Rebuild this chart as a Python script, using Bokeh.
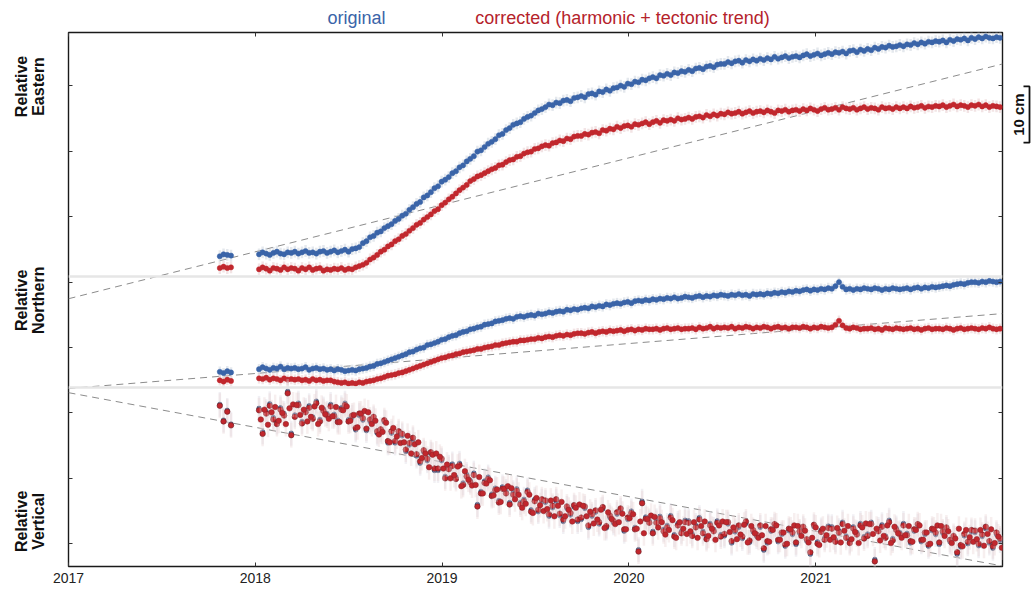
import numpy as np
from bokeh.plotting import figure
from bokeh.models import Range1d, FixedTicker, LinearAxis, Span, CustomJSTickFormatter
from bokeh.layouts import column, row
from bokeh.core.properties import value
from bokeh.embed import file_html
from bokeh.resources import INLINE

# ---------------- data (cm, relative displacement) ----------------
cluster_years = [2017.81, 2017.83, 2017.85, 2017.87]
weekly_years = list(np.round(2018.02 + np.arange(208) * 7 / 365.25, 4))
years = np.array(cluster_years + weekly_years)
# mid-week epochs (extra vertical samples of the daily series)
midweek_years = np.array(weekly_years) + 3.5 / 365.25

east_original = [
    3.1, 3.4, 3.3, 3.2,
    3.4, 3.7, 3.5, 3.3, 3.6, 3.8, 3.5, 3.4, 3.7, 3.6,
    3.8, 3.5, 3.7, 3.9, 3.6, 3.7, 3.5, 3.8, 3.9, 3.6,
    3.8, 4.0, 3.7, 3.9, 4.1, 3.8, 4.2, 4.3, 4.5, 5.1,
    5.4, 6.0, 6.2, 6.7, 6.9, 7.4, 7.7, 8.0, 8.5, 8.8,
    9.3, 9.6, 10.2, 10.6, 11.1, 11.4, 12.1, 12.4, 12.9, 13.5,
    13.8, 14.5, 14.8, 15.2, 15.8, 16.1, 16.7, 17.0, 17.6, 18.0,
    18.4, 19.1, 19.3, 19.8, 20.3, 20.6, 21.0, 21.6, 21.8, 22.4,
    22.7, 23.2, 23.4, 23.6, 24.1, 24.4, 24.6, 25.0, 25.4, 25.6,
    25.9, 26.3, 26.2, 26.6, 26.5, 26.9, 27.0, 26.8, 27.3, 27.4,
    27.6, 27.4, 27.9, 28.0, 27.8, 28.3, 28.2, 28.6, 28.4, 28.8,
    28.9, 29.2, 29.0, 29.5, 29.4, 29.8, 29.7, 30.1, 30.0, 30.3,
    30.5, 30.3, 30.8, 30.7, 31.0, 30.8, 31.2, 31.1, 31.4, 31.3,
    31.6, 31.4, 31.8, 31.9, 31.7, 32.1, 32.2, 32.0, 32.4, 32.5,
    32.5, 32.8, 32.6, 32.9, 33.0, 32.7, 33.1, 32.9, 33.2, 33.0,
    33.3, 33.1, 33.4, 33.2, 33.6, 33.3, 33.5, 33.7, 33.4, 33.6,
    33.7, 33.5, 33.8, 34.0, 33.7, 33.9, 34.1, 33.8, 34.0, 34.2,
    34.0, 34.3, 34.2, 34.4, 34.1, 34.5, 34.6, 34.3, 34.7, 34.5,
    34.8, 34.6, 35.0, 34.8, 35.1, 35.0, 35.3, 35.1, 35.2, 35.4,
    35.2, 35.5, 35.4, 35.7, 35.5, 35.8, 35.6, 35.9, 35.8, 36.0,
    35.9, 36.1, 35.8, 36.2, 36.0, 36.3, 36.2, 36.4, 36.1, 36.5,
    36.3, 36.6, 36.4, 36.7, 36.5, 36.4, 36.6, 36.5,
]

east_corrected = [
    1.3, 1.5, 1.3, 1.4,
    1.1, 1.4, 1.2, 0.9, 1.3, 1.2, 1.0, 1.4, 1.1, 1.3,
    1.2, 0.9, 1.3, 1.1, 1.4, 1.0, 1.2, 1.3, 0.9, 1.1,
    1.0, 1.2, 1.1, 1.3, 1.0, 1.2, 1.1, 1.4, 1.6, 1.8,
    2.1, 2.6, 2.9, 3.3, 3.8, 4.1, 4.6, 4.9, 5.4, 5.7,
    6.2, 6.5, 7.0, 7.4, 7.9, 8.2, 8.7, 9.1, 9.5, 10.0,
    10.3, 10.9, 11.3, 11.8, 12.2, 12.7, 13.2, 13.6, 14.0, 14.6,
    14.9, 15.3, 15.5, 15.8, 16.1, 16.4, 16.6, 17.0, 17.1, 17.5,
    17.8, 17.9, 18.3, 18.4, 18.8, 19.0, 19.1, 19.5, 19.6, 19.9,
    20.1, 20.0, 20.4, 20.5, 20.8, 20.7, 21.1, 21.0, 21.4, 21.5,
    21.5, 21.8, 21.7, 22.0, 22.1, 21.9, 22.4, 22.3, 22.6, 22.5,
    22.9, 22.7, 23.0, 23.1, 22.9, 23.3, 23.2, 23.4, 23.6, 23.3,
    23.6, 23.8, 23.5, 23.9, 23.8, 24.0, 23.8, 24.2, 24.0, 24.1,
    24.3, 24.1, 24.4, 24.5, 24.3, 24.7, 24.5, 24.8, 24.6, 24.9,
    24.8, 25.1, 24.9, 25.0, 25.2, 24.9, 25.1, 25.3, 25.0, 25.2,
    25.3, 25.1, 25.4, 25.2, 25.0, 25.4, 25.3, 25.5, 25.2, 25.4,
    25.5, 25.3, 25.6, 25.4, 25.7, 25.5, 25.3, 25.6, 25.8, 25.5,
    25.6, 25.8, 25.5, 25.9, 25.7, 25.6, 25.8, 25.5, 25.7, 25.9,
    25.6, 25.8, 25.7, 25.5, 25.9, 25.7, 25.8, 25.6, 25.9, 25.7,
    25.9, 25.7, 26.0, 25.8, 25.9, 26.1, 25.8, 26.0, 25.9, 26.1,
    26.0, 26.2, 25.9, 26.1, 26.3, 26.0, 26.2, 26.1, 25.9, 26.2,
    26.1, 26.3, 26.0, 26.2, 25.9, 26.1, 26.0, 25.9,
]

north_original = [
    2.4, 2.2, 2.5, 2.3,
    2.8, 3.1, 2.9, 2.7, 3.0, 2.9, 3.2, 2.8, 3.0, 2.9,
    3.0, 2.8, 2.9, 3.1, 2.7, 2.9, 3.0, 2.8, 2.9, 2.7,
    2.8, 2.6, 2.8, 2.7, 2.5, 2.6, 2.7, 2.6, 2.8, 2.9,
    3.0, 3.2, 3.3, 3.6, 3.7, 3.9, 4.1, 4.3, 4.5, 4.7,
    4.9, 5.1, 5.4, 5.5, 5.8, 6.0, 6.1, 6.5, 6.6, 6.8,
    7.0, 7.3, 7.4, 7.7, 7.9, 8.0, 8.3, 8.5, 8.6, 8.9,
    9.0, 9.2, 9.3, 9.6, 9.7, 9.8, 10.1, 10.2, 10.3, 10.5,
    10.6, 10.5, 10.8, 10.9, 10.8, 11.0, 11.1, 11.0, 11.3, 11.2,
    11.3, 11.5, 11.4, 11.6, 11.7, 11.6, 11.9, 11.8, 12.0, 11.9,
    12.1, 12.2, 12.1, 12.4, 12.3, 12.5, 12.4, 12.7, 12.6, 12.8,
    12.9, 12.8, 13.0, 13.1, 12.9, 13.2, 13.3, 13.2, 13.4, 13.3,
    13.5, 13.4, 13.6, 13.5, 13.7, 13.6, 13.8, 13.6, 13.7, 13.9,
    13.8, 13.7, 13.9, 14.0, 13.8, 14.0, 13.9, 14.1, 14.0, 14.2,
    14.1, 14.0, 14.2, 14.1, 14.3, 14.1, 14.2, 14.0, 14.3, 14.2,
    14.3, 14.2, 14.4, 14.3, 14.5, 14.4, 14.6, 14.5, 14.7, 14.6,
    14.8, 14.7, 14.9, 15.0, 14.8, 15.0, 14.9, 15.1, 15.0, 15.2,
    15.1, 15.5, 16.1, 15.4, 15.0, 15.1, 14.9, 15.1, 15.0, 15.2,
    15.1, 15.0, 15.2, 15.1, 14.9, 15.1, 15.0, 15.2, 15.1, 15.0,
    15.1, 15.2, 15.0, 15.2, 15.3, 15.1, 15.3, 15.2, 15.4, 15.3,
    15.4, 15.5, 15.6, 15.5, 15.7, 15.8, 15.9, 15.8, 16.0, 16.1,
    16.1, 16.0, 16.2, 16.1, 16.3, 16.2, 16.1, 16.2,
]

north_corrected = [
    1.1, 0.9, 1.2, 1.0,
    1.4, 1.3, 1.5, 1.2, 1.4, 1.3, 1.1, 1.4, 1.2, 1.3,
    1.2, 1.3, 1.1, 1.2, 1.0, 1.3, 1.1, 1.2, 1.0, 1.1,
    1.1, 0.9, 0.8, 0.7, 0.8, 0.6, 0.7, 0.6, 0.8, 0.7,
    0.9, 1.0, 1.1, 1.3, 1.4, 1.6, 1.8, 1.9, 2.0, 2.2,
    2.3, 2.5, 2.7, 2.9, 3.1, 3.3, 3.5, 3.7, 3.9, 4.1,
    4.3, 4.5, 4.6, 4.8, 4.9, 5.1, 5.2, 5.4, 5.5, 5.6,
    5.7, 5.9, 5.9, 6.1, 6.2, 6.3, 6.5, 6.5, 6.7, 6.8,
    6.9, 7.0, 7.0, 7.2, 7.2, 7.3, 7.4, 7.4, 7.6, 7.5,
    7.7, 7.8, 7.7, 7.9, 8.0, 7.9, 8.1, 8.0, 8.2, 8.3,
    8.3, 8.2, 8.4, 8.5, 8.3, 8.5, 8.6, 8.5, 8.7, 8.6,
    8.7, 8.8, 8.6, 8.8, 8.9, 8.7, 8.9, 8.8, 9.0, 8.9,
    8.9, 9.0, 8.8, 9.0, 9.1, 8.9, 9.0, 9.1, 8.9, 9.0,
    9.0, 9.1, 8.9, 9.2, 9.0, 9.1, 9.3, 9.0, 9.2, 9.1,
    9.2, 9.1, 9.3, 9.0, 9.2, 9.1, 9.3, 9.2, 9.0, 9.2,
    9.1, 9.3, 9.2, 9.0, 9.2, 9.3, 9.1, 9.2, 9.0, 9.2,
    9.2, 9.1, 9.3, 9.2, 9.0, 9.2, 9.1, 9.3, 9.2, 9.1,
    9.2, 9.6, 10.2, 9.5, 9.1, 9.0, 9.2, 9.1, 8.9, 9.0,
    9.0, 9.1, 8.9, 9.0, 8.8, 9.1, 9.0, 8.9, 9.1, 9.0,
    8.9, 9.0, 9.1, 8.9, 9.0, 8.8, 9.0, 9.1, 8.9, 9.0,
    9.0, 8.9, 9.1, 9.0, 8.8, 9.0, 9.1, 8.9, 9.0, 9.1,
    9.0, 8.9, 9.1, 9.0, 9.2, 9.0, 8.9, 9.0,
]

vertical_original = [
    2.0, -0.4, 1.1, -1.0,
    1.4, -2.2, 0.9, 2.1, 0.0, -0.7, 1.5, 0.6, 4.0, -2.4,
    0.4, 2.2, -0.6, 1.1, 1.8, 0.1, 2.5, -0.3, 1.3, 0.6,
    2.0, 0.5, -0.4, 1.5, 2.2, -0.3, 0.0, -1.9, 0.3, -0.4,
    -2.0, -0.6, -0.2, -2.4, -2.1, -0.7, -3.9, -2.4, -3.9, -2.4,
    -2.8, -5.2, -4.2, -3.4, -5.9, -7.0, -5.3, -6.6, -5.6, -8.1,
    -8.1, -6.6, -9.0, -7.6, -7.1, -9.1, -7.0, -10.0, -8.7, -9.6,
    -8.5, -13.3, -11.3, -9.7, -9.1, -11.7, -10.8, -12.7, -10.6, -11.3,
    -13.0, -11.5, -10.9, -13.0, -12.5, -11.1, -14.1, -12.5, -14.4, -12.8,
    -13.0, -15.1, -13.8, -12.8, -15.0, -15.9, -13.9, -14.9, -13.7, -15.9,
    -15.6, -13.9, -16.8, -15.1, -14.5, -16.3, -14.0, -16.9, -15.3, -16.1,
    -14.8, -14.2, -17.4, -15.6, -14.3, -16.8, -20.2, -12.8, -15.2, -15.8,
    -17.4, -15.8, -15.1, -17.1, -16.5, -15.0, -17.9, -16.2, -17.4, -15.7,
    -15.8, -17.8, -16.5, -15.3, -17.4, -18.3, -16.2, -17.1, -15.8, -17.9,
    -18.1, -16.3, -19.2, -17.5, -16.8, -18.5, -16.2, -19.1, -17.5, -18.2,
    -16.8, -20.3, -19.2, -17.4, -16.6, -19.0, -17.9, -19.7, -17.3, -17.9,
    -19.4, -17.7, -17.0, -18.9, -20.9, -16.7, -19.0, -17.2, -18.4, -16.6,
    -16.7, -18.7, -17.3, -16.0, -18.1, -18.9, -16.7, -17.6, -16.2, -18.2,
    -17.8, -16.0, -21.7, -17.1, -16.4, -18.1, -15.7, -18.5, -16.9, -17.6,
    -16.2, -17.7, -19.2, -17.4, -16.6, -19.0, -17.9, -19.7, -17.3, -17.9,
    -19.4, -17.7, -17.1, -19.0, -18.4, -20.9, -19.8, -18.1, -19.3, -17.5,
    -17.6, -19.6, -18.2, -17.0, -19.2, -20.0, -17.9, -18.8,
]

vertical_corrected = [
    1.8, -0.6, 0.9, -1.2,
    1.1, -2.5, 0.6, 1.8, -0.3, -1.0, 1.2, 0.3, 3.7, -2.7,
    0.1, 1.9, -0.9, 0.8, 1.5, -0.2, 2.2, -0.6, 1.0, 0.3,
    1.7, 0.2, -0.7, 1.2, 1.9, -0.6, 0.3, -1.6, 0.6, -0.1,
    -1.7, -0.3, 0.1, -2.1, -1.8, -0.4, -3.6, -2.1, -3.6, -2.1,
    -2.5, -4.9, -3.9, -3.1, -5.6, -6.7, -5.0, -6.3, -5.3, -7.8,
    -7.8, -6.3, -9.3, -7.9, -7.4, -9.4, -7.3, -10.3, -9.0, -9.9,
    -8.8, -13.6, -11.6, -10.0, -9.4, -12.0, -11.1, -13.0, -10.9, -11.6,
    -13.3, -11.8, -11.2, -13.3, -12.8, -11.4, -14.4, -12.8, -14.1, -12.5,
    -12.7, -14.8, -13.5, -12.5, -14.7, -15.6, -13.6, -14.6, -13.4, -15.6,
    -15.3, -13.6, -16.5, -14.8, -14.2, -16.0, -13.7, -16.6, -15.0, -15.8,
    -14.5, -13.9, -17.1, -15.3, -14.6, -17.1, -20.5, -13.1, -15.5, -16.1,
    -17.7, -16.1, -15.4, -17.4, -16.8, -15.3, -18.2, -16.5, -17.7, -16.0,
    -16.1, -18.1, -16.8, -15.6, -17.7, -18.6, -16.5, -17.4, -16.1, -18.2,
    -17.8, -16.0, -18.9, -17.2, -16.5, -18.2, -15.9, -18.8, -17.2, -17.9,
    -16.5, -20.0, -18.9, -17.1, -16.3, -18.7, -17.6, -19.4, -17.0, -17.6,
    -19.1, -17.4, -16.7, -18.6, -20.6, -16.4, -19.3, -17.5, -18.7, -16.9,
    -17.0, -19.0, -17.6, -16.3, -18.4, -19.2, -17.0, -17.9, -16.5, -18.5,
    -18.1, -16.3, -22.0, -17.4, -16.7, -18.4, -16.0, -18.8, -17.2, -17.9,
    -16.5, -18.0, -18.9, -17.1, -16.3, -18.7, -17.6, -19.4, -17.0, -17.6,
    -19.1, -17.4, -16.8, -18.7, -18.1, -20.6, -19.5, -17.8, -19.0, -17.2,
    -17.3, -19.3, -17.9, -16.7, -18.9, -19.7, -17.6, -18.5,
]

vertical_corrected_midweek = [
    -0.3, 1.2, -1.1, 0.8, 1.6, -0.5, 0.7, -1.0, 1.4, 2.0,
    1.9, 0.4, 1.2, -0.6, 0.1, 1.7, -1.0, 1.5, 0.5, -0.2,
    0.2, 1.6, -0.7, 1.1, 1.7, -0.5, 0.4, -1.5, 0.6, 1.0,
    0.8, -1.0, -0.5, -2.6, -2.2, -0.8, -3.8, -1.6, -2.9, -3.9,
    -3.8, -2.8, -5.5, -4.1, -3.8, -6.2, -5.5, -7.6, -5.7, -5.5,
    -6.0, -7.8, -7.2, -9.3, -8.8, -7.5, -10.5, -8.2, -9.5, -10.4,
    -10.3, -9.1, -11.6, -10.1, -9.6, -11.9, -11.0, -12.9, -10.9, -10.5,
    -10.8, -12.5, -11.8, -13.8, -13.2, -11.8, -14.6, -12.3, -13.4, -14.3,
    -14.0, -12.7, -15.1, -13.5, -12.9, -15.1, -14.1, -15.9, -13.8, -13.3,
    -13.5, -15.1, -14.4, -16.2, -15.6, -14.1, -16.9, -14.5, -15.5, -16.3,
    -16.0, -14.7, -17.1, -15.4, -14.8, -17.0, -15.9, -17.7, -15.5, -15.0,
    -15.2, -16.8, -16.0, -17.9, -17.2, -15.7, -18.4, -16.0, -17.0, -17.8,
    -17.4, -16.0, -18.4, -16.6, -15.9, -18.1, -17.0, -18.7, -16.5, -15.9,
    -16.0, -17.5, -16.8, -18.6, -17.9, -16.4, -19.1, -16.6, -17.7, -18.4,
    -18.0, -16.6, -19.0, -17.2, -16.5, -18.7, -17.6, -19.3, -17.1, -16.5,
    -16.6, -18.1, -17.3, -19.1, -18.4, -16.8, -19.5, -17.0, -18.0, -18.7,
    -18.3, -16.9, -19.1, -17.3, -16.6, -18.6, -17.5, -19.2, -16.8, -16.2,
    -16.3, -17.8, -17.0, -18.8, -18.1, -16.5, -19.2, -16.7, -17.7, -18.4,
    -18.0, -16.6, -19.0, -17.2, -16.5, -18.7, -17.6, -19.3, -17.1, -16.5,
    -16.6, -18.1, -17.4, -19.2, -18.5, -17.0, -19.7, -17.2, -18.3, -19.0,
    -18.6, -17.2, -19.6, -17.8, -17.1, -19.2, -18.2, -19.9,
]

# tectonic trend lines (cm) at the start and end of the window
trend_years = [2017.0, 2022.0]
trend_east = [-3.4, 32.5]
trend_north = [-0.15, 11.3]
trend_vertical = [3.8, -22.7]

# formal errors (cm)
sigma_east, sigma_north, sigma_vertical = 0.9, 0.8, 1.9

year_ticks = [2017, 2018, 2019, 2020, 2021]
year_labels = ["2017", "2018", "2019", "2020", "2021"]
y_ticks = [3.5, 13.5, 23.5, 33.5, 43.5, 53.5, 63.5, 73.5]

legend_texts = ["original", "corrected (harmonic + tectonic trend)"]
side_titles = [("Relative", "Eastern"), ("Relative", "Northern"),
               ("Relative", "Vertical")]
scale_text = "10 cm"

# panel baselines in the stacked plot (cm)
E_BASE, N_BASE, U_BASE = 44.34, 27.37, 22.78

BLUE, RED = "#3a64a8", "#c1272d"
RED_TXT = "#b5232b"
FONT = "Liberation Sans"
W, H = 1032, 589
TOP_H = 31


def side_fig(w, h, x_range, y_range):
    f = figure(width=w, height=h, x_range=x_range, y_range=y_range,
               output_backend="svg", toolbar_location=None,
               x_axis_type=None, y_axis_type=None,
               min_border_left=0, min_border_right=0, min_border_top=0,
               min_border_bottom=0)
    f.outline_line_color = None
    f.background_fill_color = "white"
    f.border_fill_color = "white"
    return f


# ---------------- main plot ----------------
y_range = Range1d(0, 81.65)
p = figure(frame_width=934, frame_height=534, x_range=Range1d(2017, 2022),
           y_range=y_range, output_backend="svg",
           toolbar_location=None, x_axis_type=None, y_axis_type=None,
           min_border_left=20, min_border_right=4, min_border_top=1,
           min_border_bottom=23)
p.background_fill_color = "white"
p.border_fill_color = "white"
p.outline_line_color = "#1a1a1a"
p.outline_line_width = 1.4

blank = CustomJSTickFormatter(code="return ''")


def make_axis(ticks, labels=None):
    ax = LinearAxis(ticker=FixedTicker(ticks=ticks))
    ax.axis_line_color = None
    ax.major_tick_in = 4
    ax.major_tick_out = 0
    ax.minor_tick_line_color = None
    ax.major_tick_line_color = "#333333"
    if labels is None:
        ax.formatter = blank
        ax.major_label_text_font_size = "0px"
        ax.major_label_standoff = 0
    else:
        ax.major_label_overrides = {t: l for t, l in zip(ticks, labels)}
        ax.major_label_text_font = FONT
        ax.major_label_text_font_size = "14px"
        ax.major_label_text_color = "#222222"
        ax.major_label_standoff = 6
    return ax


p.add_layout(make_axis(year_ticks, year_labels), "below")
p.add_layout(make_axis(year_ticks), "above")
p.add_layout(make_axis(y_ticks), "left")
p.add_layout(make_axis(y_ticks), "right")

for loc in (E_BASE, N_BASE):
    p.add_layout(Span(location=loc, dimension="width", line_color="#e6e6e6",
                      line_width=2.5))

for tr, base in ((trend_east, E_BASE), (trend_north, N_BASE),
                 (trend_vertical, U_BASE)):
    p.line(trend_years, np.array(tr) + base, line_color="#8c8c8c",
           line_width=1, line_dash="7 5")


def draw(t_all, vals, base, sigma, color, halo, size, outline, lw, alpha=0.45):
    v = np.array(vals, dtype=float)
    t = np.asarray(t_all)[:len(v)]
    y = v + base
    p.segment(x0=t, y0=y - sigma, x1=t, y1=y + sigma, line_color=halo,
              line_width=2.5, line_alpha=alpha)
    p.scatter(t, y, size=size, fill_color=color, line_color=outline,
              line_width=lw)


draw(years, east_original, E_BASE, sigma_east, BLUE, "#c3cbd8", 5.2, BLUE, 0.5)
draw(years, east_corrected, E_BASE, sigma_east, RED, "#e2c4c6", 5.2, RED, 0.5)
draw(years, north_original, N_BASE, sigma_north, BLUE, "#c3cbd8", 5.2, BLUE, 0.5)
draw(years, north_corrected, N_BASE, sigma_north, RED, "#e2c4c6", 5.2, RED, 0.5)
draw(years, vertical_original, U_BASE, sigma_vertical, BLUE, "#d8d4e0", 4.5,
     "#2c3550", 0.6, 0.35)
draw(years, vertical_corrected, U_BASE, sigma_vertical, RED, "#e8d0d2", 5.5,
     "#6a1c24", 0.6, 0.35)
draw(midweek_years, vertical_corrected_midweek, U_BASE, sigma_vertical, RED,
     "#e8d0d2", 5.5, "#8a2028", 0.5, 0.35)

# ---------------- legend strip on top (page pixel coordinates) ----------------
top = side_fig(W, TOP_H, Range1d(0, W), Range1d(0, TOP_H))
top.text(x=[356, 622], y=[TOP_H - 17, TOP_H - 17], text=legend_texts,
         text_color=[BLUE, RED_TXT], text_font=value(FONT),
         text_font_size="18px", text_align="center", text_baseline="middle")

# ---------------- side titles on the left (shares the cm y scale) ----------------
LEFT_W = 48
ROW_H = H - TOP_H
left = side_fig(LEFT_W, ROW_H, Range1d(0, LEFT_W), y_range)
centres_cm = [73.4, 40.7, 6.9]
lx, ly, lt = [], [], []
for (a, b), cy in zip(side_titles, centres_cm):
    lx += [21, 38]
    ly += [cy, cy]
    lt += [a, b]
left.text(x=lx, y=ly, text=lt, angle=np.pi / 2, text_font=value(FONT),
          text_font_style="bold", text_font_size="16px", text_color="#111111",
          text_align="center", text_baseline="middle")

# ---------------- 10 cm scale bar on the right ----------------
RIGHT_X0 = 1006
right = side_fig(W - RIGHT_X0, ROW_H, Range1d(RIGHT_X0, W), y_range)
bar_top, bar_bottom = 73.4, 64.8
right.line(x=[1023, 1029, 1029, 1023],
           y=[bar_top, bar_top, bar_bottom, bar_bottom],
           line_color="#111111", line_width=1.8)
right.text(x=[1018], y=[(bar_top + bar_bottom) / 2], text=[scale_text],
           angle=np.pi / 2, text_font=value(FONT), text_font_style="bold",
           text_font_size="15px", text_color="#111111", text_align="center",
           text_baseline="middle")

layout = column(top, row(left, p, right))
open("out.html", "w").write(file_html(layout, INLINE))
